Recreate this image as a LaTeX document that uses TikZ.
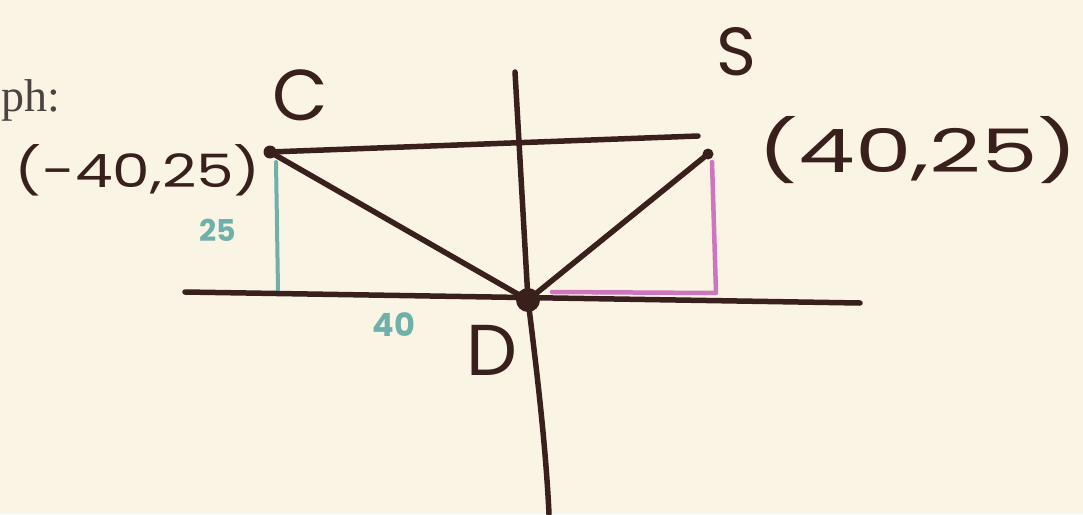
\documentclass[tikz,border=0pt]{standalone}
\usepackage{fontspec}
\setmainfont{Liberation Serif}
\newfontfamily\hand{Poppins}
\definecolor{paper}{RGB}{250,244,229}
\definecolor{ink}{RGB}{58,32,28}
\definecolor{tealpen}{RGB}{112,176,170}
\definecolor{pinkpen}{RGB}{205,118,190}
\definecolor{printgray}{RGB}{78,66,64}
\tikzset{
  inkline/.style={draw=ink, line width=5.5pt, line cap=round, line join=round},
  tealline/.style={draw=tealpen, line width=4pt, line cap=round},
  pinkline/.style={draw=pinkpen, line width=4.5pt, line cap=round, line join=round},
  handtext/.style={text=ink, inner sep=0pt, font=\hand},
  tealtext/.style={text=tealpen, inner sep=0pt, font=\hand\bfseries},
  dotmark/.style={circle, fill=ink, inner sep=0pt}
}
\begin{document}
\begin{tikzpicture}[x=1pt,y=-1pt]
\fill[paper] (0,0) rectangle (1083,514);
\useasboundingbox (0,0) rectangle (1083,514);
% coordinates
\coordinate (Cp) at (270,152);
\coordinate (Sp) at (708,154);
\coordinate (Dp) at (528,300);
\coordinate (xl) at (185,292);
\coordinate (xr) at (860,303);
\coordinate (yt) at (515,72);
\coordinate (yb) at (549,514);
\coordinate (topr) at (698,136);
\coordinate (tealtop) at (276,162);
\coordinate (tealbot) at (278,290);
\coordinate (pinktop) at (712,162);
\coordinate (pinkbot) at (716,293);
\coordinate (pinkleft) at (552,292);
% colored legs
\draw[tealline] (tealtop) -- (tealbot);
\draw[pinkline] (pinktop) -- (pinkbot) -- (pinkleft);
% axes
\draw[inkline] (xl) -- (xr);
\draw[inkline] (yt) -- (Dp) .. controls (538,380) and (546,450) .. (yb);
% top line
\draw[inkline] (Cp) -- (topr);
% connectors to D
\draw[inkline] (Cp) -- (Dp);
\draw[inkline] (Sp) -- (Dp);
% dots
\node[dotmark, minimum size=13pt] (C) at (Cp) {};
\node[dotmark, minimum size=11pt] (S) at (Sp) {};
\node[dotmark, minimum size=24pt] (D) at (Dp) {};
% labels
\node[anchor=west, text=printgray, inner sep=0pt, font=\fontsize{46}{46}\selectfont] (ph) at (1,100) {ph:};
\node[handtext, font=\hand\fontsize{72}{72}\selectfont] (Clab) at (300,95) {C};
\node[handtext, font=\hand\fontsize{68}{68}\selectfont] (Slab) at (736,52) {S};
\node[handtext, font=\hand\fontsize{72}{72}\selectfont] (Dlab) at (492,350) {D};
\node[handtext] (Ccoord) at (138,170) {\scalebox{1.3}[1]{\fontsize{46}{46}\selectfont (-40,25)}};
\node[handtext] (Scoord) at (918,150) {\scalebox{1.5}[1]{\fontsize{60}{60}\selectfont (40,25)}};
\node[tealtext] (l25) at (218,230) {\fontsize{30}{30}\selectfont 25};
\node[tealtext] (l40) at (394,325) {\fontsize{32}{32}\selectfont 40};
\end{tikzpicture}
\end{document}
